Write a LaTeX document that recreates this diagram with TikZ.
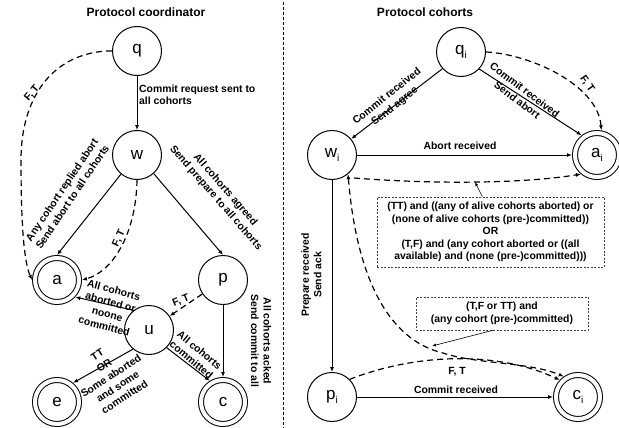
\documentclass[tikz,border=0pt]{standalone}
\usepackage{fontspec}
\setmainfont{Liberation Sans}
\usetikzlibrary{arrows.meta}
\newcommand\mysub[1]{\raisebox{-0.22em}{\fontsize{10}{10}\selectfont #1}}
\begin{document}
\begin{tikzpicture}[x=1pt,y=-1pt,
  st/.style={circle, draw, line width=1pt, minimum size=49pt, inner sep=0pt, font=\fontsize{17}{17}\selectfont},
  fin/.style={circle, draw, line width=1pt, double, double distance=4pt, minimum size=44pt, inner sep=0pt, outer sep=3pt, font=\fontsize{17}{17}\selectfont},
  arr/.style={line width=1pt, -{Latex[length=5pt,width=4pt]}},
  darr/.style={arr, line width=1.2pt, dash pattern=on 6pt off 4pt},
  sarr/.style={line width=0.6pt, -{Latex[length=4pt,width=3pt]}},
  lbl/.style={font=\fontsize{10.4}{12.5}\selectfont\bfseries, align=center, inner sep=0pt},
  ttl/.style={font=\fontsize{12}{14}\selectfont\bfseries, inner sep=0pt},
  cbox/.style={draw=black!75, line width=0.7pt, dash pattern=on 2pt off 1.5pt, font=\fontsize{10.4}{12.5}\selectfont\bfseries, align=center, inner sep=0pt},
  divider/.style={line width=0.8pt, dash pattern=on 3pt off 2pt}]
\useasboundingbox (0,0) rectangle (619,428);
% titles
\node[ttl] (t1) at (146,12) {Protocol coordinator};
\node[ttl] (t2) at (425,12) {Protocol cohorts};
\draw[divider] (283,2) -- (283,428);
% left states
\node[st] (q) at (137,51) {q};
\node[st] (w) at (137,155) {w};
\node[fin] (a) at (57,280) {a};
\node[st] (p) at (223,280) {p};
\node[st] (u) at (149,330) {u};
\node[fin] (e) at (57,402) {e};
\node[fin] (c) at (223,402) {c};
% left connectors
\draw[arr] (q.south) -- (w.north);
\draw[arr] (w.-130) -- (a.north);
\draw[arr] (w.-48) -- (p.north);
\draw[arr] (p.south) -- (c.north);
\draw[arr] (u.128) -- (a.-43);
\draw[arr] (u.-130) -- (e.50);
\draw[arr] (u.-45) -- (c.122);
\draw[darr] (q.west) -- ++(-6,0) .. controls (50,55) and (21,100) .. (21,160) .. controls (21,225) and (24,262) .. (a.west);
\draw[darr] (w.south) .. controls (136,235) and (112,272) .. (a.east);
\draw[darr] (p) -- (u);
% left labels
\node[lbl, anchor=west, align=left] (l1) at (139,95) {Commit request sent to\\all cohorts};
\node[lbl, rotate=56] (l2) at (67,193.5) {Any cohort replied abort\\Send abort to all cohorts};
\node[lbl, rotate=-49] (l3) at (220.5,194) {All cohorts agreed\\Send prepare to all cohorts};
\node[lbl, rotate=50] (l4) at (32,93) {F, T};
\node[lbl, rotate=65] (l5) at (119,238) {F, T};
\node[lbl, rotate=22] (l6) at (181,301) {F, T};
\node[lbl, rotate=-15] (l7) at (109,308) {All cohorts\\aborted or\\noone\\committed};
\node[lbl, rotate=33] (l8) at (111,376) {TT\\OR\\Some aborted\\and some\\committed};
\node[lbl, rotate=-40] (l9) at (195.5,355) {All cohorts\\committed};
\node[lbl, rotate=-90] (l10) at (261,341) {All cohorts acked\\Send commit to all};
% right states
\node[st] (qI) at (461,52) {q\mysub{i}};
\node[st] (wI) at (332,155) {w\mysub{i}};
\node[fin] (aI) at (597,155) {a\mysub{i}};
\node[st] (pI) at (332,397) {p\mysub{i}};
\node[fin] (cI) at (578,397) {c\mysub{i}};
% condition boxes
\node[cbox, minimum width=227pt, minimum height=70pt] (box1) at (490.5,232) {(TT) and ((any of alive cohorts aborted) or\\(none of alive cohorts (pre-)committed))\\OR\\(T,F) and (any cohort aborted or ((all\\available) and (none (pre-)committed)))};
\node[cbox, minimum width=172pt, minimum height=33pt] (box2) at (502,313.5) {(T,F or TT) and\\(any cohort (pre-)committed)};
\coordinate (wIo) at (354,178);
\coordinate (b1t) at (475,182);
\coordinate (b2t) at (432,346);
% right connectors
\draw[arr] (qI.-138) -- (wI.40);
\draw[arr] (qI.-43) -- (aI.128);
\draw[arr] (wI.east) -- (aI.west);
\draw[arr] (wI.south) -- (pI.north);
\draw[arr] (pI.east) -- (cI.west);
\draw[darr] (qI.east) .. controls (530,54) and (598,85) .. (aI.80);
\draw[darr] (wIo) .. controls (430,184) and (520,184) .. (aI.-130);
\draw[darr, {Latex[length=5pt,width=4pt]}-{Latex[length=5pt,width=4pt]}] (wI.-50) .. controls (355,260) and (380,338) .. (443,353) .. controls (475,364) and (530,362) .. (cI.125);
\draw[darr] (pI.45) .. controls (420,352) and (500,352) .. (cI.137);
\draw[sarr] (box1.103) -- (b1t);
\draw[sarr] (box2.-119) -- (b2t);
% right labels
\node[lbl, rotate=38.6] (r1) at (391,101.5) {Commit received\\Send agree};
\node[lbl, rotate=-37] (r2) at (521,95) {Commit received\\Send abort};
\node[lbl, rotate=-55] (r3) at (587,84) {F, T};
\node[lbl] (r4) at (460,146) {Abort received};
\node[lbl, rotate=90] (r5) at (311.5,275) {Prepare received\\Send ack};
\node[lbl] (r6) at (457,372) {F, T};
\node[lbl] (r7) at (456,390) {Commit received};
\end{tikzpicture}
\end{document}
